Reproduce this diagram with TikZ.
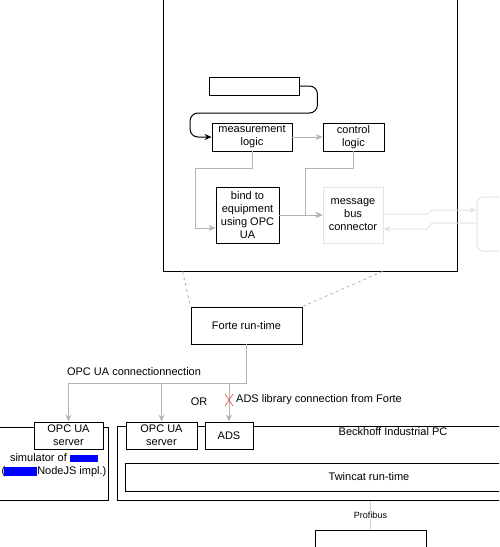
\documentclass[tikz,border=0pt]{standalone}
\usepackage{amsmath}
\usepackage{xcolor}
\usepackage{fontspec}
\setmainfont{Liberation Sans}
\usetikzlibrary{arrows.meta}
\definecolor{edgegrey}{HTML}{B3B3B3}
\definecolor{palegrey}{HTML}{E3E3E3}
\definecolor{crossred}{HTML}{E06666}

\begin{document}
\begin{tikzpicture}[x=1pt,y=-1pt,
    box/.style={draw,line width=0.9pt,fill=white,inner sep=0pt,align=center,
      font=\fontsize{11}{13}\selectfont},
    label/.style={inner sep=0pt,align=center,font=\fontsize{11}{13}\selectfont},
    flow/.style={draw=edgegrey,line width=1pt,-{Stealth[length=7pt,width=6pt]}},
    faint/.style={draw=palegrey,line width=1pt,-{Stealth[length=7pt,width=6pt]}},
    frame/.style={line width=0.9pt}]
    \useasboundingbox (0,0) rectangle (499,547);
    \clip (0,0) rectangle (499,547);
    % runtime engine
    \node[box,minimum width=294,minimum height=290] (engine) at (310,126) {};
    \node[box,minimum width=90,minimum height=18] (input) at (254,86) {};
    \node[box,minimum width=80,minimum height=28] (measure) at (252,137) {measurement\\logic};
    \node[box,minimum width=61,minimum height=28] (control) at (353.5,137) {control\\logic};
    \node[box,minimum width=63,minimum height=56] (bind) at (247.5,215) {bind to\\equipment\\using OPC\\UA};
    \node[box,draw=palegrey,minimum width=60,minimum height=56] (msgbus) at (353,215) {message\\bus\\connector};
    \node[box,draw=palegrey,line width=1pt,rounded corners=6,minimum width=50,minimum height=54] (remote) at (502,224) {};
    \draw[line width=1pt,-{Stealth[length=7pt,width=6pt]},rounded corners=8]
      (input.east) -- ++(18,0) |- (190,113) |- (measure.west);
    \draw[flow] (measure.east) -- (control.west);
    \draw[flow] (measure.south) -- ++(0,17) -| (195,228) -- ([yshift=-13pt]bind.west);
    \draw[flow] (control.south) -- ++(0,17) -| (305,215) -- (msgbus.west);
    \draw[flow] (bind.east) -- (msgbus.west);
    \draw[faint] ([yshift=1pt]msgbus.east) -- (427,214) -- (432,210) -- ([yshift=14pt]remote.west);
    \draw[faint] ([yshift=1pt]remote.west) -- (432,223) -- (427,229) -- ([yshift=-14pt]msgbus.east);
    % forte
    \node[box,minimum width=111,minimum height=37] (forte) at (246.5,325.5) {Forte run-time};
    \draw[edgegrey,dashed,line width=0.8pt] ([xshift=20pt]engine.south west) -- (forte.north west);
    \draw[edgegrey,dashed,line width=0.8pt] ([xshift=220pt]engine.south west) -- (forte.north east);
    % devices
    \draw[frame] (-5,427) rectangle (108,500);
    \draw[frame] (117,426) rectangle (669,500);
    \node[box,minimum width=69,minimum height=27] (simopc) at (68.5,435.5) {OPC UA\\server};
    \node[box,minimum width=71,minimum height=27] (pcopc) at (161.5,435.5) {OPC UA\\server};
    \node[box,minimum width=48,minimum height=27] (ads) at (229,435.5) {ADS};
    \node[box,minimum width=488,minimum height=28] (twincat) at (369,477) {Twincat run-time};
    \node[label] (pcname) at (393,432) {Beckhoff Industrial PC};
    \node[label] (simname) at (54,465) {simulator of \textcolor{blue}{\rule[-1pt]{28pt}{7pt}}\\
      (\hspace{-1pt}\textcolor{blue}{\rule[-2pt]{33pt}{9pt}}NodeJS impl.)};
    \coordinate (split) at (246.5,383);
    \draw[flow] (forte.south) -- (split) -| (simopc.north);
    \foreach \n in {pcopc,ads}
    \draw[flow] (\n.north |- split) -- (\n.north);
    \node[label] (opclink) at (134,372) {OPC UA connectionnection};
    \node[label] (orlabel) at (199,402) {OR};
    \draw[crossred,line width=0.8pt] (225,394) -- (233,406) (233,394) -- (225,406);
    \node[label,anchor=west] (adslink) at (236,400) {ADS library connection from Forte};
    % field bus
    \node[box,minimum width=111,minimum height=30] (field) at (370.5,545) {};
    \draw[palegrey!70!edgegrey,line width=1pt] (field.north) -- ++(0,-29)
      node[midway,fill=white,text=black,inner sep=1pt,font=\fontsize{9}{10}\selectfont] (busname) {Profibus};
\end{tikzpicture}
\end{document}
